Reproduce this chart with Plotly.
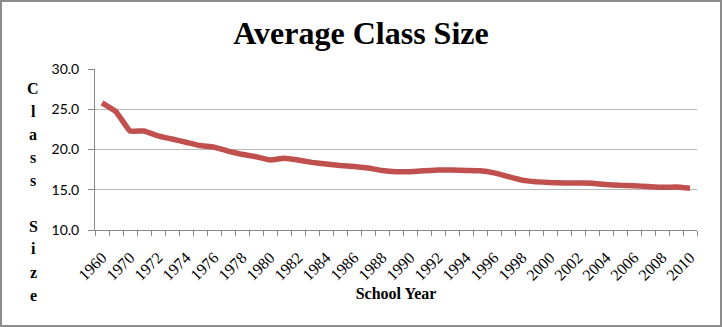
import plotly.graph_objects as go

years = ["1960", "1965"] + [str(y) for y in range(1970, 2011)]
class_size = [25.8, 24.7, 22.3, 22.3, 21.7, 21.3, 20.9, 20.5, 20.3, 19.8, 19.4, 19.1,
              18.7, 18.9, 18.7, 18.4, 18.2, 18.0, 17.9, 17.7, 17.4, 17.25, 17.25, 17.35,
              17.45, 17.45, 17.4, 17.35, 17.1, 16.65, 16.2, 16.0, 15.9, 15.85, 15.85, 15.8,
              15.65, 15.55, 15.5, 15.4, 15.3, 15.35, 15.2]
tick_text = [y if i % 2 == 0 else "" for i, y in enumerate(years)]
y_ticks = [10, 15, 20, 25, 30]
y_tick_text = ["10.0", "15.0", "20.0", "25.0", "30.0"]
y_title = "Class Size"

W, H = 722, 327
L, R, T, B = 95, 25, 69, 97
pw, ph = W - L - R, H - T - B

fig = go.Figure()
fig.add_trace(go.Scatter(x=years, y=class_size, mode="lines",
                         line=dict(color="#C0504D", width=5.5, shape="spline", smoothing=0.3),
                         hoverinfo="x+y"))

fig.update_layout(
    width=W, height=H,
    margin=dict(l=L, r=R, t=T, b=B),
    paper_bgcolor="white", plot_bgcolor="white",
    showlegend=False,
    title=dict(text="<b>Average Class Size</b>", x=0.5, xanchor="center",
               y=1 - 33 / H, yanchor="middle",
               font=dict(family="Liberation Serif", size=32, color="black")),
    xaxis=dict(type="category", tickmode="array", tickvals=years, ticktext=tick_text,
               range=[-0.5, len(years) - 0.5],
               tickson="boundaries", ticks="outside", ticklen=5, tickcolor="#888888",
               showline=True, linecolor="#888888", linewidth=1,
               showgrid=False, tickangle=-45, ticklabelstandoff=11,
               tickfont=dict(family="Liberation Serif", size=16, color="black"),
               title=dict(text="<b>School Year</b>", standoff=5,
                          font=dict(family="Liberation Serif", size=16, color="black"))),
    yaxis=dict(range=[10, 30], tickvals=y_ticks, ticktext=y_tick_text,
               showgrid=True, gridcolor="#B8B8B8", gridwidth=1,
               showline=True, linecolor="#888888", linewidth=1,
               ticks="outside", ticklen=6, tickcolor="#888888",
               zeroline=False, ticklabelstandoff=6,
               tickfont=dict(family="Lato", size=14, color="black")),
)

# stacked vertical axis title, one letter per line
step = 23
top_px = 88
for k, ch in enumerate(y_title):
    if ch == " ":
        continue
    ypx = top_px + k * step
    fig.add_annotation(text="<b>%s</b>" % ch, xref="paper", yref="paper",
                       x=(33 - L) / pw, y=(H - B - ypx) / ph,
                       xanchor="center", yanchor="middle", showarrow=False,
                       font=dict(family="Liberation Serif", size=16, color="black"))

fig.add_shape(type="rect", xref="paper", yref="paper",
              x0=(1 - L) / pw, x1=(W - 1 - L) / pw,
              y0=-(B - 1) / ph, y1=1 + (T - 1) / ph,
              line=dict(color="#8C8C8C", width=2), fillcolor="rgba(0,0,0,0)", layer="below")

fig.write_html("out.html")
